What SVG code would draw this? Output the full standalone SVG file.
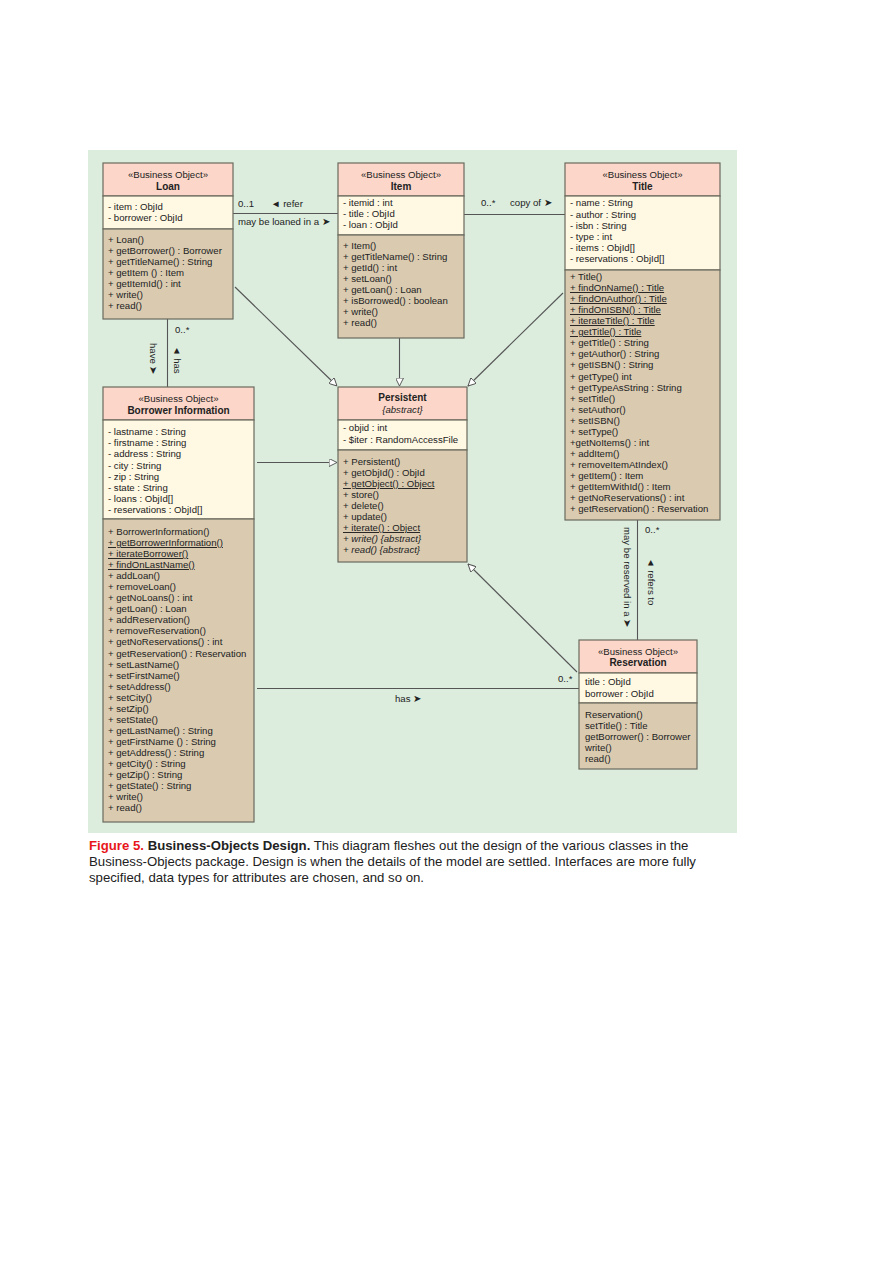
<svg xmlns="http://www.w3.org/2000/svg" width="893" height="1263" viewBox="0 0 893 1263">
<defs>
<style>
.bg{fill:#dcedde}
.hd{fill:#fcd6c8;stroke:#6a6a5e;stroke-width:1.2}
.at{fill:#fff8e2;stroke:#6a6a5e;stroke-width:1.2}
.me{fill:#d9cab0;stroke:#6a6a5e;stroke-width:1.2}
text{font-family:"Liberation Sans",Arial,sans-serif;fill:#222}
.t{font-size:9.6px}
.st{font-size:9.6px;text-anchor:middle}
.nm{font-size:10px;font-weight:bold;text-anchor:middle}
.u{text-decoration:underline}
.i{font-style:italic}
.ln{stroke:#555;stroke-width:1.1;fill:none}
.gen{stroke:#555;stroke-width:1.1;fill:none;marker-end:url(#tri)}
.cap{font-size:13.2px}
</style>
<marker id="tri" viewBox="0 0 10 10" refX="10" refY="5" markerWidth="8" markerHeight="8" markerUnits="userSpaceOnUse" orient="auto">
<path d="M0,0 L10,5 L0,10 Z" fill="#fff" stroke="#555" stroke-width="1.2"/>
</marker>
</defs>
<rect x="0" y="0" width="893" height="1263" fill="#fff"/>
<rect class="bg" x="88" y="150" width="649" height="683"/>

<g id="connectors">
<line class="ln" x1="233" y1="213.5" x2="338" y2="213.5"/>
<text class="t" x="238" y="207">0..1</text>
<text class="t" x="271" y="207">◄ refer</text>
<text class="t" x="238" y="225">may be loaned in a ➤</text>
<line class="ln" x1="464" y1="214.5" x2="565" y2="214.5"/>
<text class="t" x="481" y="206">0..*</text>
<text class="t" x="510" y="206">copy of ➤</text>
<line class="ln" x1="167.5" y1="319" x2="167.5" y2="387"/>
<text class="t" x="175" y="333">0..*</text>
<text class="t" transform="translate(150,343) rotate(90)">have ➤</text>
<text class="t" transform="translate(174,346) rotate(90)">◄ has</text>
<line class="ln" x1="637.5" y1="520" x2="637.5" y2="640"/>
<text class="t" x="645" y="533">0..*</text>
<text class="t" transform="translate(624,527) rotate(90)">may be reserved in a ➤</text>
<text class="t" transform="translate(648,558) rotate(90)">◄ refers to</text>
<line class="ln" x1="257" y1="688.5" x2="579" y2="688.5"/>
<text class="t" x="395" y="702">has ➤</text>
<text class="t" x="558" y="682">0..*</text>
<line class="gen" x1="235" y1="287" x2="337" y2="386"/>
<line class="gen" x1="399.5" y1="338" x2="399.5" y2="386"/>
<line class="gen" x1="563" y1="293" x2="468" y2="386"/>
<line class="gen" x1="257" y1="462.5" x2="337" y2="462.5"/>
<line class="gen" x1="577" y1="672" x2="468" y2="564"/>
</g>

<g id="loan">
<rect class="hd" x="103" y="163" width="130" height="33"/>
<rect class="at" x="103" y="196" width="130" height="33"/>
<rect class="me" x="103" y="229" width="130" height="90"/>
<text class="st" x="168" y="178">«Business Object»</text>
<text class="nm" x="168" y="189.5">Loan</text>
<text class="t" x="108" y="210">- item : ObjId</text>
<text class="t" x="108" y="221">- borrower : ObjId</text>
<text class="t" x="108" y="243">+ Loan()</text>
<text class="t" x="108" y="254">+ getBorrower() : Borrower</text>
<text class="t" x="108" y="265">+ getTitleName() : String</text>
<text class="t" x="108" y="276">+ getItem () : Item</text>
<text class="t" x="108" y="287">+ getItemId() : int</text>
<text class="t" x="108" y="298">+ write()</text>
<text class="t" x="108" y="309">+ read()</text>
</g>

<g id="item">
<rect class="hd" x="338" y="163" width="126" height="33"/>
<rect class="at" x="338" y="196" width="126" height="39"/>
<rect class="me" x="338" y="235" width="126" height="103"/>
<text class="st" x="401" y="178">«Business Object»</text>
<text class="nm" x="401" y="189.5">Item</text>
<text class="t" x="343" y="206">- itemid : int</text>
<text class="t" x="343" y="217">- title : ObjId</text>
<text class="t" x="343" y="228">- loan : ObjId</text>
<text class="t" x="343" y="249">+ Item()</text>
<text class="t" x="343" y="260">+ getTitleName() : String</text>
<text class="t" x="343" y="271">+ getId() : int</text>
<text class="t" x="343" y="282">+ setLoan()</text>
<text class="t" x="343" y="293">+ getLoan() : Loan</text>
<text class="t" x="343" y="304">+ isBorrowed() : boolean</text>
<text class="t" x="343" y="315">+ write()</text>
<text class="t" x="343" y="326">+ read()</text>
</g>

<g id="title">
<rect class="hd" x="565" y="163" width="155" height="33"/>
<rect class="at" x="565" y="196" width="155" height="74"/>
<rect class="me" x="565" y="270" width="155" height="250"/>
<text class="st" x="642.5" y="178">«Business Object»</text>
<text class="nm" x="642.5" y="189.5">Title</text>
<text class="t" x="570" y="206">- name : String</text>
<text class="t" x="570" y="217.5">- author : String</text>
<text class="t" x="570" y="229">- isbn : String</text>
<text class="t" x="570" y="240">- type : int</text>
<text class="t" x="570" y="251">- items : ObjId[]</text>
<text class="t" x="570" y="262">- reservations : ObjId[]</text>
<text class="t" x="570" y="280">+ Title()</text>
<text class="t u" x="570" y="291">+ findOnName() : Title</text>
<text class="t u" x="570" y="302">+ findOnAuthor() : Title</text>
<text class="t u" x="570" y="313">+ findOnISBN() : Title</text>
<text class="t u" x="570" y="324">+ iterateTitle() : Title</text>
<text class="t u" x="570" y="335">+ getTitle() : Title</text>
<text class="t" x="570" y="346">+ getTitle() : String</text>
<text class="t" x="570" y="357">+ getAuthor() : String</text>
<text class="t" x="570" y="368">+ getISBN() : String</text>
<text class="t" x="570" y="380">+ getType() int</text>
<text class="t" x="570" y="391">+ getTypeAsString : String</text>
<text class="t" x="570" y="402">+ setTitle()</text>
<text class="t" x="570" y="413">+ setAuthor()</text>
<text class="t" x="570" y="424">+ setISBN()</text>
<text class="t" x="570" y="435">+ setType()</text>
<text class="t" x="570" y="446">+getNoItems() : int</text>
<text class="t" x="570" y="457">+ addItem()</text>
<text class="t" x="570" y="468">+ removeItemAtIndex()</text>
<text class="t" x="570" y="479">+ getItem() : Item</text>
<text class="t" x="570" y="490">+ getItemWithId() : Item</text>
<text class="t" x="570" y="501">+ getNoReservations() : int</text>
<text class="t" x="570" y="512">+ getReservation() : Reservation</text>
</g>

<g id="borrower">
<rect class="hd" x="103" y="387" width="151" height="33"/>
<rect class="at" x="103" y="420" width="151" height="99"/>
<rect class="me" x="103" y="519" width="151" height="303"/>
<text class="st" x="178.5" y="402">«Business Object»</text>
<text class="nm" x="178.5" y="414">Borrower Information</text>
<text class="t" x="108" y="435">- lastname : String</text>
<text class="t" x="108" y="446">- firstname : String</text>
<text class="t" x="108" y="457">- address : String</text>
<text class="t" x="108" y="469">- city : String</text>
<text class="t" x="108" y="480">- zip : String</text>
<text class="t" x="108" y="491">- state : String</text>
<text class="t" x="108" y="502">- loans : ObjId[]</text>
<text class="t" x="108" y="513">- reservations : ObjId[]</text>
<text class="t" x="108" y="535">+ BorrowerInformation()</text>
<text class="t u" x="108" y="546">+ getBorrowerInformation()</text>
<text class="t u" x="108" y="557">+ iterateBorrower()</text>
<text class="t u" x="108" y="568">+ findOnLastName()</text>
<text class="t" x="108" y="579">+ addLoan()</text>
<text class="t" x="108" y="590">+ removeLoan()</text>
<text class="t" x="108" y="601">+ getNoLoans() : int</text>
<text class="t" x="108" y="612">+ getLoan() : Loan</text>
<text class="t" x="108" y="623">+ addReservation()</text>
<text class="t" x="108" y="634">+ removeReservation()</text>
<text class="t" x="108" y="645">+ getNoReservations() : int</text>
<text class="t" x="108" y="656.5">+ getReservation() : Reservation</text>
<text class="t" x="108" y="668">+ setLastName()</text>
<text class="t" x="108" y="679">+ setFirstName()</text>
<text class="t" x="108" y="690">+ setAddress()</text>
<text class="t" x="108" y="701">+ setCity()</text>
<text class="t" x="108" y="712">+ setZip()</text>
<text class="t" x="108" y="723">+ setState()</text>
<text class="t" x="108" y="734">+ getLastName() : String</text>
<text class="t" x="108" y="745">+ getFirstName () : String</text>
<text class="t" x="108" y="756">+ getAddress() : String</text>
<text class="t" x="108" y="767">+ getCity() : String</text>
<text class="t" x="108" y="778">+ getZip() : String</text>
<text class="t" x="108" y="789">+ getState() : String</text>
<text class="t" x="108" y="800">+ write()</text>
<text class="t" x="108" y="811">+ read()</text>
</g>

<g id="persistent">
<rect class="hd" x="338" y="387" width="129" height="33"/>
<rect class="at" x="338" y="420" width="129" height="30"/>
<rect class="me" x="338" y="450" width="129" height="112"/>
<text class="nm" x="402.5" y="401">Persistent</text>
<text class="st i" x="402.5" y="413">{abstract}</text>
<text class="t" x="343" y="431">- objid : int</text>
<text class="t" x="343" y="443">- $iter : RandomAccessFile</text>
<text class="t" x="343" y="465">+ Persistent()</text>
<text class="t" x="343" y="476">+ getObjId() : ObjId</text>
<text class="t u" x="343" y="487">+ getObject() : Object</text>
<text class="t" x="343" y="498">+ store()</text>
<text class="t" x="343" y="509">+ delete()</text>
<text class="t" x="343" y="520">+ update()</text>
<text class="t u" x="343" y="531">+ iterate() : Object</text>
<text class="t i" x="343" y="542">+ write() {abstract}</text>
<text class="t i" x="343" y="553">+ read() {abstract}</text>
</g>

<g id="reservation">
<rect class="hd" x="579" y="640" width="118" height="33"/>
<rect class="at" x="579" y="673" width="118" height="30"/>
<rect class="me" x="579" y="703" width="118" height="66"/>
<text class="st" x="638" y="655">«Business Object»</text>
<text class="nm" x="638" y="666">Reservation</text>
<text class="t" x="585" y="685">title : ObjId</text>
<text class="t" x="585" y="697">borrower : ObjId</text>
<text class="t" x="585" y="718">Reservation()</text>
<text class="t" x="585" y="729">setTitle() : Title</text>
<text class="t" x="585" y="740">getBorrower() : Borrower</text>
<text class="t" x="585" y="751">write()</text>
<text class="t" x="585" y="762">read()</text>
</g>

<g id="caption">
<text class="cap" x="89" y="850"><tspan fill="#e8161b" font-weight="bold">Figure 5.</tspan><tspan font-weight="bold"> Business-Objects Design.</tspan> This diagram fleshes out the design of the various classes in the</text>
<text class="cap" x="89" y="866">Business-Objects package. Design is when the details of the model are settled. Interfaces are more fully</text>
<text class="cap" x="89" y="882">specified, data types for attributes are chosen, and so on.</text>
</g>
</svg>
